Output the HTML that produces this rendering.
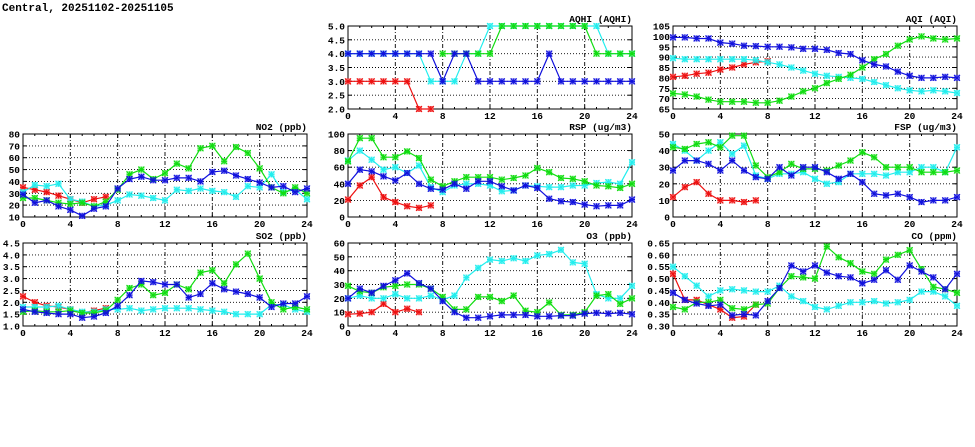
<!DOCTYPE html>
<html><head><meta charset="utf-8"><style>
html,body{margin:0;padding:0;background:#fff;width:975px;height:447px;overflow:hidden}
svg text{font-family:"Liberation Mono","DejaVu Sans Mono",monospace;font-weight:bold;fill:#000}
</style></head><body>
<svg id="s" width="975" height="447" xmlns="http://www.w3.org/2000/svg">
<text x="2" y="11" font-size="11">Central, 20251102-20251105</text>
</svg>
<script>
const S=document.getElementById('s');
const C={r:'#ee1111',g:'#11dd11',c:'#22eeee',b:'#1111dd'};
const N=null;
const P=[
{t:'AQHI (AQHI)',x:348,y:26,lo:2,hi:5,st:0.5,d:1,s:{
r:[3,3,3,3,3,3,2,2],
g:[N,N,N,N,N,N,N,N,4,4,4,4,4,5,5,5,5,5,5,5,5,4,4,4,4],
c:[4,4,4,4,4,4,4,3,3,3,4,4,5,5,5,5,5,5,5,5,5,5,4,4,4],
b:[4,4,4,4,4,4,4,4,3,4,4,3,3,3,3,3,3,4,3,3,3,3,3,3,3]}},
{t:'AQI (AQI)',x:673,y:26,lo:65,hi:105,st:5,d:0,s:{
r:[80.5,81,82,82.5,84,85,86.5,87.5,88],
g:[72.5,72,71,69.5,68.5,68.5,68.5,68,68,69,71,73.5,75,77.5,79.5,81.5,85,89,91.5,95.5,98.5,100,99,98.5,99],
c:[89.5,89,89,89,89,89,89,88.5,87.5,86.5,85,83.5,82,81,80.5,80,79.5,78,76.5,75,74,73.5,74,73.5,72.7],
b:[99.5,99.5,99,99,97,96.5,95.5,95.3,95,95,94.7,94,94,93.5,92,91.5,88.5,86.5,85.5,83,81,80,80,80.5,80]}},
{t:'NO2 (ppb)',x:23,y:134,lo:10,hi:80,st:10,d:0,s:{
r:[35,33,31,28,25,22,25,27],
g:[26,26,24,22,21,22,19,23,33,46,50,42,47,55,51,68,70,57,69,64,51,35,30,35,30],
c:[31,37,36,38,25,23,19,20,24,29,28,26,24,33,32,34,32,31,27,36,35,46,31,33,25],
b:[29,22,24,19,16,11,17,19,34,42,44,41,41,43,43,40,48,49,45,42,39,35,36,31,34]}},
{t:'RSP (ug/m3)',x:348,y:134,lo:0,hi:100,st:20,d:0,s:{
r:[21,38,48,24,18,13,11,14],
g:[67,95,95,72,72,79,71,45,37,43,48,48,48,45,47,50,59,54,47,46,43,38,37,35,40],
c:[68,80,69,57,60,53,62,36,30,38,40,40,38,31,32,38,37,36,36,38,38,41,42,40,66],
b:[40,57,55,49,44,53,40,34,33,40,34,43,43,37,32,38,35,22,19,18,15,13,14,14,21]}},
{t:'FSP (ug/m3)',x:673,y:134,lo:0,hi:50,st:10,d:0,s:{
r:[12,18,21,14,10,10,9,10],
g:[42,41,44,45,42,49,49,31,24,27,32,29,29,28,31,34,39,36,30,30,30,27,27,27,28],
c:[44,40,34,40,45,38,43,25,23,26,26,27,23,20,21,26,26,26,25,27,27,30,30,27,42],
b:[28,34,34,32,28,34,28,24,23,30,25,30,30,27,23,26,21,14,13,14,12,9,10,10,12]}},
{t:'SO2 (ppb)',x:23,y:243,lo:1,hi:4.5,st:0.5,d:1,s:{
r:[2.25,2.0,1.85,1.8,1.7,1.55,1.65,1.75],
g:[1.6,1.65,1.6,1.6,1.65,1.55,1.55,1.65,2.1,2.6,2.75,2.3,2.4,2.75,2.55,3.25,3.35,2.8,3.6,4.05,3.0,2.0,1.7,1.8,1.7],
c:[1.8,1.8,1.8,1.85,1.7,1.6,1.6,1.7,1.7,1.75,1.65,1.7,1.75,1.75,1.75,1.7,1.65,1.6,1.5,1.5,1.5,1.9,1.9,1.7,1.6],
b:[1.7,1.6,1.55,1.5,1.5,1.35,1.4,1.55,1.85,2.3,2.9,2.85,2.75,2.75,2.2,2.35,2.8,2.55,2.45,2.35,2.2,1.8,1.95,1.95,2.25]}},
{t:'O3 (ppb)',x:348,y:243,lo:0,hi:60,st:10,d:0,s:{
r:[8.5,9,10,16,10,12.5,10],
g:[29,25,24,28,29,30,30,27,21,12,12,21,21,18,22,11,10,17,8,8,10,22,23,16,20],
c:[20,22,20,20,23,20,20,22,19,22,35,42,48,47,49,47,51,52,55,46,45,23,20,20,29],
b:[20,27,24,29,33,38,31,27,18,10,6,6,7,8,8,8,7,7,7.5,7.5,9,9.5,9,9.5,8.5]}},
{t:'CO (ppm)',x:673,y:243,lo:0.3,hi:0.65,st:0.05,d:2,s:{
r:[0.52,0.41,0.41,0.39,0.37,0.335,0.34,0.39],
g:[0.38,0.37,0.40,0.40,0.41,0.375,0.37,0.39,0.395,0.46,0.51,0.505,0.50,0.635,0.59,0.565,0.53,0.52,0.58,0.60,0.62,0.54,0.465,0.455,0.44],
c:[0.55,0.51,0.47,0.425,0.45,0.455,0.45,0.445,0.445,0.47,0.425,0.405,0.38,0.37,0.385,0.40,0.40,0.405,0.395,0.40,0.41,0.445,0.445,0.425,0.385],
b:[0.44,0.41,0.395,0.385,0.39,0.345,0.35,0.345,0.405,0.46,0.555,0.53,0.555,0.525,0.51,0.505,0.48,0.495,0.535,0.495,0.555,0.53,0.505,0.455,0.52]}}
];
let h='';
const W=284,H=83;
for(const p of P){
 const X=i=>p.x+i*W/24, Y=v=>p.y+H-(v-p.lo)/(p.hi-p.lo)*H;
 const n=Math.round((p.hi-p.lo)/p.st);
 for(let k=0;k<=n;k++){const v=p.lo+k*p.st,y=Y(v).toFixed(1);
  if(k>0&&k<n)h+=`<line x1="${p.x}" x2="${p.x+W}" y1="${y}" y2="${y}" stroke="#000" stroke-width="0.9" stroke-dasharray="1,2"/>`;
  h+=`<line x1="${p.x}" x2="${p.x+4}" y1="${y}" y2="${y}" stroke="#000"/><line x1="${p.x+W-4}" x2="${p.x+W}" y1="${y}" y2="${y}" stroke="#000"/>`;
  h+=`<text x="${p.x-3}" y="${+y+3.5}" font-size="9.5" text-anchor="end">${v.toFixed(p.d)}</text>`;}
 for(let i=0;i<=24;i++){const x=X(i).toFixed(1),L=i%4==0?4:2;
  h+=`<line x1="${x}" x2="${x}" y1="${p.y+H}" y2="${p.y+H-L}" stroke="#000"/><line x1="${x}" x2="${x}" y1="${p.y}" y2="${p.y+L}" stroke="#000"/>`;
  if(i%4==0){ if(i>0&&i<24)h+=`<line x1="${x}" x2="${x}" y1="${p.y}" y2="${p.y+H}" stroke="#000" stroke-width="0.9" stroke-dasharray="4,2,1,2"/>`;
   h+=`<text x="${x}" y="${p.y+H+10}" font-size="9.5" text-anchor="middle">${i}</text>`;}}
 h+=`<rect x="${p.x}" y="${p.y}" width="${W}" height="${H}" fill="none" stroke="#000"/>`;
 h+=`<text x="${p.x+W}" y="${p.y-4}" font-size="9.5" text-anchor="end">${p.t}</text>`;
 for(const k of ['r','c','g','b']){const a=p.s[k],col=C[k];
  const pts=[];a.forEach((v,i)=>{if(v!==null)pts.push(X(i).toFixed(1)+','+Y(v).toFixed(1));});
  h+=`<polyline fill="none" stroke="${col}" stroke-width="1.2" points="${pts.join(' ')}"/>`;
  for(let i=0;i<a.length;i++){if(a[i]===null)continue;const x=X(i),y=Y(a[i]);
   h+=`<path d="M${x-3} ${y-3}L${x+3} ${y+3}M${x-3} ${y+3}L${x+3} ${y-3}M${x-3} ${y}L${x+3} ${y}M${x} ${y-3}L${x} ${y+3}" stroke="${col}" stroke-width="1.1"/><rect x="${x-2.5}" y="${y-2.5}" width="5" height="5" fill="none" stroke="${col}" stroke-opacity="0.5"/>`;}}
}
S.insertAdjacentHTML('beforeend',h);
</script>
</body></html>
